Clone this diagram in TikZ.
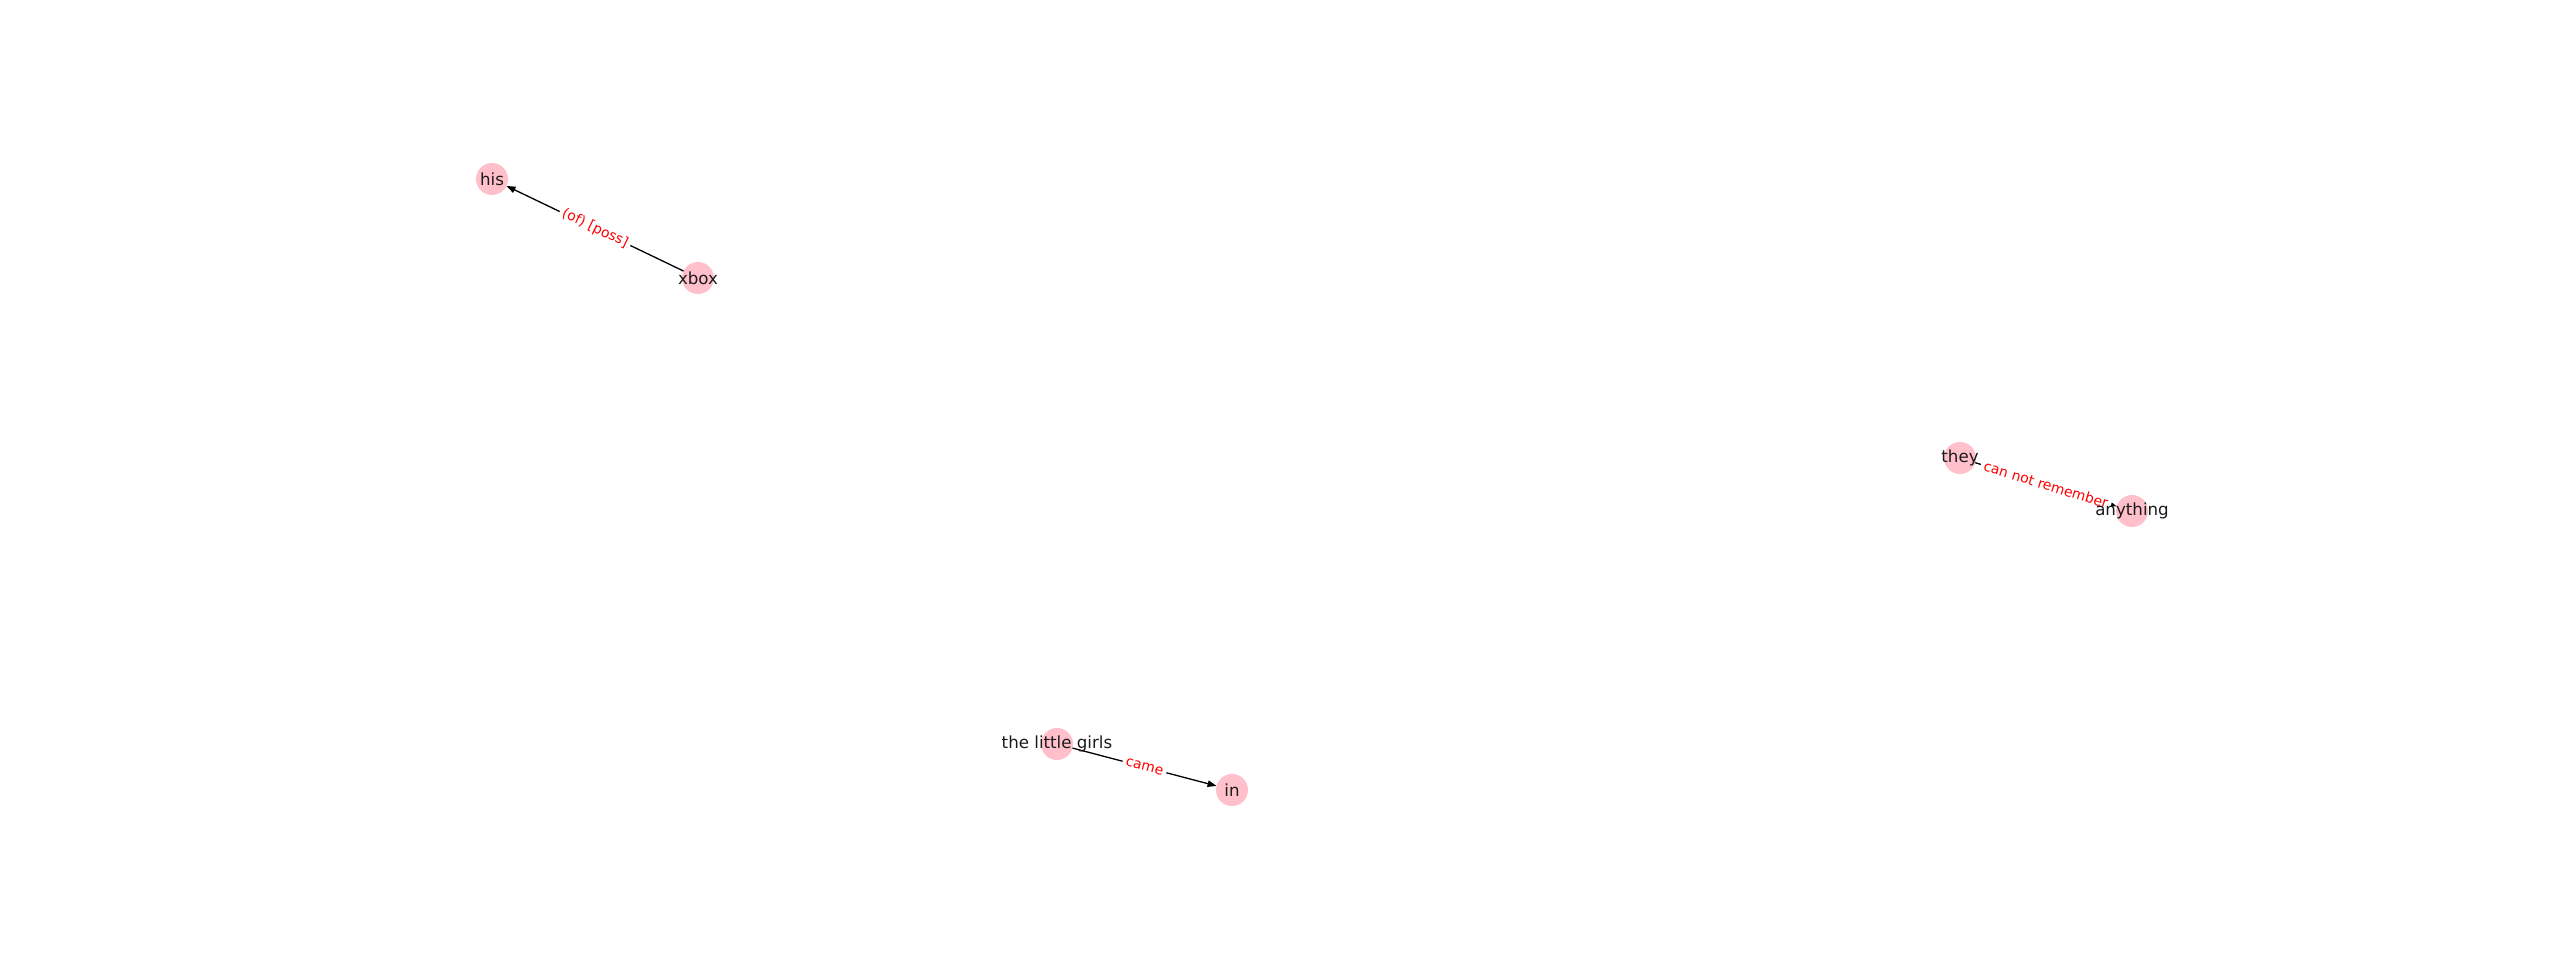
\documentclass[tikz,border=0pt]{standalone}
\usepackage{fontspec}
\setmainfont{DejaVu Sans}
\usetikzlibrary{arrows.meta}
\definecolor{nodepink}{HTML}{FFC0CB}
\definecolor{txt}{HTML}{1A1A1A}
\begin{document}
\begin{tikzpicture}[x=1pt,y=-1pt,
  vertex/.style={circle,fill=nodepink,minimum size=32pt,inner sep=0pt,outer sep=0pt},
  vtext/.style={text=txt,font=\fontsize{16.67}{20}\selectfont,inner sep=0pt},
  edge/.style={draw=black,line width=1.3pt,-{Triangle[length=9pt,width=6.5pt]}},
  lbl/.style={midway,sloped,fill=white,text=red,inner sep=3.5pt,font=\fontsize{13.89}{16}\selectfont}]
\useasboundingbox (0,0) rectangle (2560,960);
\node[vertex] (his) at (492,179) {};
\node[vertex] (xbox) at (698,278) {};
\node[vertex] (they) at (1960,458) {};
\node[vertex] (anything) at (2132,511) {};
\node[vertex] (girls) at (1057,744) {};
\node[vertex] (in) at (1232,790) {};
\draw[edge] (xbox) -- (his) node[lbl] {(of) [poss]};
\draw[edge] (they) -- (anything) node[lbl] {can not remember};
\draw[edge] (girls) -- (in) node[lbl] {came};
\node[vtext] (his-t) at (his) {his};
\node[vtext] (xbox-t) at (xbox) {xbox};
\node[vtext] (they-t) at (they) {they};
\node[vtext] (anything-t) at (anything) {anything};
\node[vtext] (girls-t) at (girls) {the little girls};
\node[vtext] (in-t) at (in) {in};
\end{tikzpicture}
\end{document}
